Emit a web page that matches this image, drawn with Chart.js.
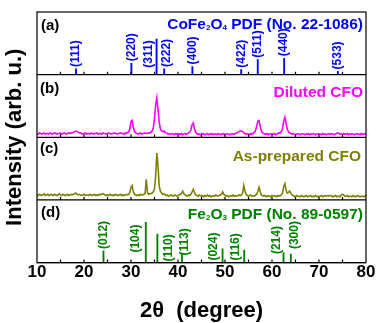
<!DOCTYPE html>
<html lang="en">
<head>
<meta charset="UTF-8" />
<script src="https://cdn.jsdelivr.net/npm/chart.js"></script>
<title>XRD</title>
<style>
  html, body { margin: 0; padding: 0; background: #fff; }
</style>
</head>
<body>
<canvas id="xrd" width="377" height="323"></canvas>
<script>
// scan grid: 10 -> 80 deg, 0.25 deg step
const angleStart = 10, angleStep = 0.25;

const dilutedCfo = [
  6,5,7,6,5,6,7,5,6,6, 5,7,6,5,6,7,6,5,6,6, 7,5,6,7,6,5,6,7,6,7,
  7,8,9,10,9,8,7,7,
  6,5,6,7,5,6,6,5,7,6, 5,6,6,7,5,6,6,5,7,6, 6,5,6,7,6,5,6,6,7,6, 5,6,6,7,6,6,5,7,6,8,
  8,14,25,27,16,9,7,
  6,5,6,7,5,6,6,7,6,6,7,
  7,8,10,15,30,52,63,45,24,14,10,9,10,8,7,
  6,5,6,5,6,5,4,6,5,6, 5,5,6,4,5,6,5,6,7,
  8,12,20,23,14,8,
  6,5,5,4,6,5,5,4,5,6, 4,5,5,6,4,5,5,4,6,5, 4,5,5,6,4,5,6,5,4,5, 6,5,5,6,
  7,8,9,10,10,9,7,
  6,5,6,5,4,6,5,6,
  8,11,18,26,27,17,10,7,
  6,5,5,6,4,5,6,5,5,6,4,5,6,7,7,
  9,14,26,32,22,13,9,7,
  6,5,6,5,4,5,6,5,4,5, 6,5,4,5,5,6,4,5,5,6, 5,4,5,6,5,5,4,6,5,5, 4,5,6,5,5,6,5,4,5,6,
  7,6,5,5,4,6,5,5,6,4, 5,5,6,5,4,5,6,5,5,4, 6,5,5,6,5
];

const asPreparedCfo = [
  8,7,9,8,7,8,10,7,8,9, 7,8,9,8,7,9,8,7,8,10, 8,7,9,8,7,8,9,7,8,9,
  8,9,10,11,9,8,9,8,
  7,8,9,7,8,8,7,9,8,7, 8,9,7,8,7,9,8,
  9,10,9,8,
  7,8,7,9,8,7,8,7,9,8, 7,8,9,7,8,7,8,9,8,
  9,12,20,23,13,9,8,
  7,8,7,9,8,8,9,
  10,33,12,
  9,10,10,
  11,13,18,38,75,55,22,14,11,9,
  10,8,7,8,6,7,8,7,6,8,7,6,7,8,9,
  11,14,10,
  8,7,6,8,7,
  9,13,17,12,8,
  7,6,8,7,6,7,5,7,6,8, 6,7,5,6,7,6,8,7,6,7, 8,
  9,13,9,
  7,6,7,5,6,7,6,8,6,7,6,7,8,7,8,
  11,23,14,9,
  7,6,7,8,6,7,6,8,
  9,14,20,13,8,
  7,6,7,5,6,7,6,5,7,6, 7,6,5,7,6,7,8,
  11,22,26,15,11,12,14,11,8,
  7,6,5,7,6,6,5,7,6,5, 6,7,5,6,6,7,5,6,5,7, 6,5,6,6,7,5,6,7,6,7,
  6,7,7,6,5,6,7,5,6,6, 5,8,9,8,6,6,7,5,6,6, 5,7,6,5,6,7,6,5,6,6, 5,6,7
];

// CoFe2O4 PDF 22-1086
const cfoPeaks = [18.29, 30.08, 35.44, 37.06, 43.06, 53.45, 56.97, 62.59, 74.01];
const cfoIntensity = [16, 32, 100, 16, 23, 14, 42, 46, 9];
const cfoHkl = ['(111)', '(220)', '(311)', '(222)', '(400)', '(422)', '(511)', '(440)', '(533)'];

// Fe2O3 PDF 89-0597
const hemPeaks = [24.14, 33.15, 35.61, 40.85, 49.48, 54.09, 62.45, 64.01];
const hemIntensity = [29, 100, 71, 21, 34, 31, 25, 21];
const hemHkl = ['(012)', '(104)', '(110)', '(113)', '(024)', '(116)', '(214)', '(300)'];

const xTicks = [10, 20, 30, 40, 50, 60, 70, 80];

const angles = dilutedCfo.map((_, i) => angleStart + i * angleStep);
const toXY = (ys) => ys.map((y, i) => ({ x: angles[i], y: y }));
const sticks = (xs, ys) => xs.map((x, i) => ({ x: x, y: ys[i] }));

const BLUE = '#0000ff', MAGENTA = '#ff00ff', OLIVE = '#808000', GREEN = '#008000';
const FONT = '"Liberation Sans", Arial, sans-serif';

// hand placed hkl tags: [dx px, bottom above baseline px]; null -> sit on top of stick
const tagPlace = {
  '(311)': [-8, 7], '(222)': [3, null],
  '(104)': [-10, 10], '(110)': [11, 1], '(113)': [3, 7], '(024)': [-9, 2],
  '(116)': [-9, 2], '(214)': [-7, 8.5], '(300)': [4, 13.5]
};

function drawRich(ctx, parts, right, midY, size, color) {
  ctx.fillStyle = color;
  ctx.textBaseline = 'alphabetic';
  ctx.textAlign = 'left';
  const base = midY + size * 0.36;
  let w = 0;
  parts.forEach(([t, sub]) => {
    ctx.font = 'bold ' + (sub ? 8 : size) + 'px ' + FONT;
    w += ctx.measureText(t).width;
  });
  let x = right - w;
  parts.forEach(([t, sub]) => {
    ctx.font = 'bold ' + (sub ? 8 : size) + 'px ' + FONT;
    ctx.fillText(t, x, sub ? base + 1.5 : base);
    x += ctx.measureText(t).width;
  });
}

const decor = {
  id: 'decor',
  afterDatasetsDraw(chart) {
    const { ctx, chartArea: a, scales } = chart;
    const sx = scales.x;
    ctx.save();

    // frame, panel separators, inward ticks every 5 deg
    ctx.strokeStyle = '#000';
    ctx.lineWidth = 1.2;
    ctx.strokeRect(a.left, a.top, a.right - a.left, a.bottom - a.top);
    ['yA', 'yB', 'yC', 'yD'].forEach(id => {
      const yb = scales[id].bottom;
      ctx.beginPath();
      ctx.moveTo(a.left, yb);
      ctx.lineTo(a.right, yb);
      for (let t = 15; t < 80; t += 5) {
        const px = sx.getPixelForValue(t);
        ctx.moveTo(px, yb);
        ctx.lineTo(px, yb - 3);
      }
      ctx.stroke();
    });

    // hkl tags
    const tags = (xs, ys, names, id, color) => {
      const sy = scales[id];
      ctx.font = 'bold 12px ' + FONT;
      ctx.fillStyle = color;
      ctx.textAlign = 'left';
      ctx.textBaseline = 'middle';
      xs.forEach((v, i) => {
        const place = tagPlace[names[i]] || [0, null];
        const px = sx.getPixelForValue(v) + place[0];
        const bottom = place[1] === null ? sy.getPixelForValue(ys[i]) - 2 : sy.bottom - place[1];
        ctx.save();
        ctx.translate(px, bottom);
        ctx.rotate(-Math.PI / 2);
        ctx.fillText(names[i], 0, 0);
        ctx.restore();
      });
    };
    tags(cfoPeaks, cfoIntensity, cfoHkl, 'yA', BLUE);
    tags(hemPeaks, hemIntensity, hemHkl, 'yD', GREEN);

    // panel letters
    ctx.font = 'bold 15px ' + FONT;
    ctx.fillStyle = '#000';
    ctx.textAlign = 'left';
    ctx.textBaseline = 'middle';
    ctx.fillText('(a)', a.left + 4, scales.yA.top + 14);
    ctx.fillText('(b)', a.left + 3, scales.yB.top + 14);
    ctx.fillText('(c)', a.left + 3, scales.yC.top + 12);
    ctx.fillText('(d)', a.left + 4, scales.yD.top + 13);

    // panel captions
    const r = a.right - 3;
    drawRich(ctx, [['CoFe', 0], ['2', 1], ['O', 0], ['4', 1], [' PDF (No. 22-1086)', 0]], r, scales.yA.top + 11, 15.5, BLUE);
    drawRich(ctx, [['Diluted CFO', 0]], r, scales.yB.top + 17, 15.5, MAGENTA);
    drawRich(ctx, [['As-prepared CFO', 0]], r - 2, scales.yC.top + 18, 15.5, OLIVE);
    drawRich(ctx, [['Fe', 0], ['2', 1], ['O', 0], ['3', 1], [' PDF (No. 89-0597)', 0]], r, scales.yD.top + 13, 15.5, GREEN);

    // axis titles
    ctx.fillStyle = '#000';
    ctx.font = 'bold 22px ' + FONT;
    ctx.textAlign = 'center';
    ctx.textBaseline = 'middle';
    ctx.fillText('2\u03b8  (degree)', (a.left + a.right) / 2, a.bottom + 48);
    ctx.save();
    ctx.translate(15, (a.top + a.bottom) / 2);
    ctx.rotate(-Math.PI / 2);
    ctx.fillText('Intensity (arb. u.)', 0, 0);
    ctx.restore();

    ctx.restore();
  }
};

const panelAxis = (max) => ({
  type: 'linear',
  position: 'left',
  stack: 'xrd',
  stackWeight: 1,
  min: 0,
  max: max,
  ticks: { display: false },
  grid: { display: false, drawTicks: false },
  border: { display: false }
});

new Chart(document.getElementById('xrd'), {
  type: 'line',
  data: {
    datasets: [
      {
        type: 'bar', label: 'CoFe2O4 PDF', data: sticks(cfoPeaks, cfoIntensity),
        yAxisID: 'yA', backgroundColor: BLUE, barThickness: 1.2, grouped: false
      },
      {
        label: 'Diluted CFO', data: toXY(dilutedCfo), yAxisID: 'yB',
        borderColor: MAGENTA, borderWidth: 1.6, pointRadius: 0, tension: 0
      },
      {
        label: 'As-prepared CFO', data: toXY(asPreparedCfo), yAxisID: 'yC',
        borderColor: OLIVE, borderWidth: 1.6, pointRadius: 0, tension: 0
      },
      {
        type: 'bar', label: 'Fe2O3 PDF', data: sticks(hemPeaks, hemIntensity),
        yAxisID: 'yD', backgroundColor: GREEN, barThickness: 1.2, grouped: false
      }
    ]
  },
  options: {
    responsive: false,
    animation: false,
    layout: { padding: { left: 37, right: 11, top: 12, bottom: 40 } },
    plugins: { legend: { display: false }, tooltip: { enabled: false } },
    scales: {
      x: {
        type: 'linear',
        min: 10,
        max: 80,
        offset: false,
        afterBuildTicks: (s) => { s.ticks = xTicks.map(v => ({ value: v })); },
        ticks: { color: '#000', padding: 0, font: { family: FONT, size: 17, weight: 'bold' } },
        grid: { display: false, drawTicks: false },
        border: { display: false }
      },
      // stacked panels are laid out bottom-up in definition order
      yD: panelAxis(156),
      yC: panelAxis(100),
      yB: panelAxis(100),
      yA: panelAxis(176)
    }
  },
  plugins: [decor]
});
</script>
</body>
</html>
